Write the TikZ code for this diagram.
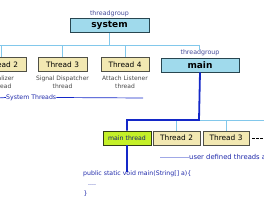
\documentclass[tikz,border=0pt]{standalone}
\usepackage{fontspec}
\setmainfont{DejaVu Sans}
\usepackage{tikz}
\usetikzlibrary{positioning, calc}
\usepackage{xcolor}
\definecolor{groupfill}{RGB}{160,218,236}
\definecolor{groupline}{RGB}{40,70,80}
\definecolor{threadfill}{RGB}{242,232,178}
\definecolor{threadline}{RGB}{80,80,70}
\definecolor{mainfill}{RGB}{196,240,40}
\definecolor{mainline}{RGB}{50,60,20}
\definecolor{thinwire}{RGB}{130,200,235}
\definecolor{fatwire}{RGB}{20,40,200}
\definecolor{labelblue}{RGB}{30,40,170}
\definecolor{softblue}{RGB}{160,168,230}
\definecolor{greytext}{RGB}{70,70,70}

\tikzset{
  groupbox/.style={draw=groupline, fill=groupfill, line width=0.8pt, minimum height=14pt,
    inner sep=0pt, font=\fontsize{9}{9}\selectfont\bfseries},
  threadbox/.style={draw=threadline, fill=threadfill, line width=0.7pt, minimum height=14pt,
    inner sep=0pt, font=\fontsize{7.4}{7.4}\selectfont},
  groupname/.style={text=labelblue!60!gray, font=\fontsize{6.3}{6.3}\selectfont, inner sep=0pt},
  caption/.style={text=greytext, align=center, font=\fontsize{6}{7.6}\selectfont, inner sep=0pt},
  bluetext/.style={text=labelblue, font=\fontsize{6.2}{6.2}\selectfont, inner sep=0pt},
  thinwire/.style={draw=thinwire, line width=0.8pt},
  fatwire/.style={draw=fatwire, line width=1.8pt}
}

\begin{document}
\begin{tikzpicture}[x=1pt, y=-1pt]
  \useasboundingbox (0,0) rectangle (264,200);
  % system threads
  \node[groupbox, minimum width=79pt] (system) at (109.5,25.5) {system};
  \node[groupname, above=1.5pt of system] (syslbl) {threadgroup};
  \node[threadbox, minimum width=49pt] (t2) at (1.5,64.5) {Thread 2};
  \node[threadbox, minimum width=49pt] (t3) at (62.5,64.5) {Thread 3};
  \node[threadbox, minimum width=48pt] (t4) at (125,64.5) {Thread 4};
  \node[caption, below=4pt of t2] (c2) {Finalizer\\thread};
  \node[caption, below=4pt of t3] (c3) {Signal Dispatcher\\thread};
  \node[caption, below=4pt of t4] (c4) {Attach Listener\\thread};
  \coordinate (busL) at (-10,45);
  \coordinate (busR) at (199,45);
  \draw[thinwire] (busL) -- (busR);
  \draw[thinwire] (system.south) -- (system.south |- busL);
  \foreach \t in {t2,t3,t4}
    \draw[thinwire] (\t.north) -- (\t.north |- busL);
  % main group
  \node[groupbox, minimum width=78pt] (main) at (200,65) {main};
  \node[groupname, above=1.5pt of main] (mainlbl) {threadgroup};
  \draw[thinwire] (busR) -- (busR |- mainlbl.north);
  % system threads note
  \node[bluetext, anchor=west] (systxt) at (6,97.5) {System Threads};
  \coordinate (sysL) at (-2,98);
  \coordinate (sysR) at (143,98);
  \draw[fatwire, line width=0.7pt] (sysL) -- (systxt.west);
  \draw[fatwire, line width=0.7pt] (systxt.east) -- (sysR);
  % user threads
  \node[threadbox, fill=mainfill, draw=mainline, line width=0.9pt, minimum width=48pt,
    text=labelblue!70!black, font=\fontsize{6.2}{6.2}\selectfont] (mt) at (127,138) {main thread};
  \node[threadbox, minimum width=47pt] (u2) at (176.5,138) {Thread 2};
  \node[threadbox, minimum width=46pt] (u3) at (226,138) {Thread 3};
  \coordinate (ujoin) at (199,120);
  \coordinate (uend) at (270,120);
  \draw[thinwire] (ujoin) -- (uend);
  \foreach \t in {u2,u3}
    \draw[thinwire] (\t.north) -- (\t.north |- ujoin);
  \draw[fatwire] (main.south) -- (ujoin) -| (mt.north);
  \coordinate (mtend) at (127,172);
  \draw[fatwire] (mt.south) -- (mtend);
  \coordinate (more) at (266,138);
  \draw[line width=1pt, dash pattern=on 2.5pt off 1.5pt] ($(u3.east)+(3,0)$) -- (more);
  \node[bluetext, anchor=west, font=\fontsize{6.8}{6.8}\selectfont] (usertxt) at (189,157) {user defined threads and};
  \coordinate (userL) at (160,157);
  \draw[softblue, line width=0.8pt] (userL) -- (usertxt.west);
  % main method
  \node[bluetext, anchor=west] (code1) at (83,174) {public static void main(String[] a)\{};
  \node[bluetext, anchor=west] (code2) at (88,185) {....};
  \node[bluetext, anchor=west] (code3) at (83.5,194) {\}};
\end{tikzpicture}
\end{document}
